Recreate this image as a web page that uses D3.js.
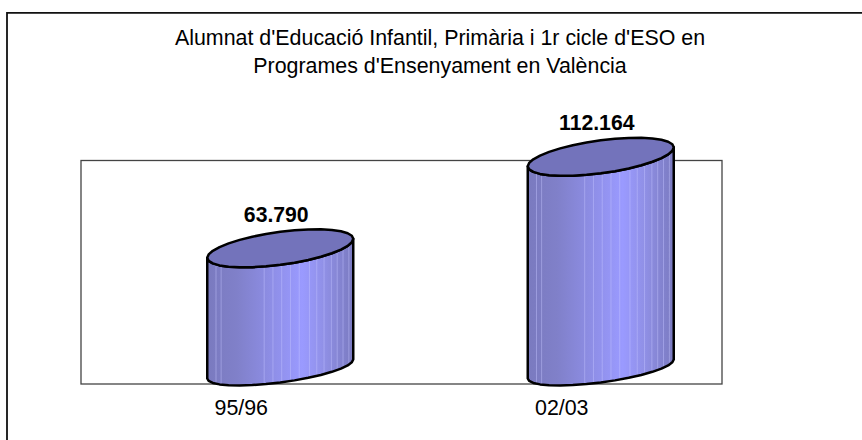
<!DOCTYPE html>
<html>
<head>
<meta charset="utf-8">
<script src="https://cdn.jsdelivr.net/npm/d3@7"></script>
<style>
  html, body { margin: 0; padding: 0; background: #fff; }
  text { font-family: "Liberation Sans", Arial, sans-serif; fill: #000; }
</style>
</head>
<body>
<div id="graphElement"></div>
<script>
var titleLines = ["Alumnat d'Educació Infantil, Primària i 1r cicle d'ESO en", "Programes d'Ensenyament en València"];
var categories = ["95/96", "02/03"];
var values = [63790, 112164];
var valueLabels = ["63.790", "112.164"];

var w = 862;
var h = 440;

// plot area
var plotLeft = 81, plotRight = 722, plotTop = 160.5, plotBottom = 384;

// the cylinders sit up and to the right of the category slot (fake 3d)
var depthX = 39;
var barWidth = 146;
var skew = 9.5;      // half of the rise from left to right of the ellipse
var bulgeTop = 16.5; // half height of the top ellipse
var bulgeBase = 13.5;

var xScale = d3.scaleBand().domain(categories).range([plotLeft, plotRight]);
// y gives the height of the left corner of the cylinder top
var yScale = d3.scaleLinear().domain([0, 120000]).range([378.5, 151.5]);

var svg = d3.select("#graphElement")
            .append("svg")
            .attr("width", w)
            .attr("height", h)
            .style("display", "block");

var defs = svg.append("defs");
var grad = defs.append("linearGradient").attr("id", "body").attr("x1", 0).attr("x2", 1).attr("y1", 0).attr("y2", 0);
grad.append("stop").attr("offset", "0%").attr("stop-color", "#7a7abf");
grad.append("stop").attr("offset", "20%").attr("stop-color", "#8080c9");
grad.append("stop").attr("offset", "65%").attr("stop-color", "#9a9aff");
grad.append("stop").attr("offset", "80%").attr("stop-color", "#9090e6");
grad.append("stop").attr("offset", "100%").attr("stop-color", "#7a7ac0");

// outer frame, only top and left are in the picture
svg.append("path")
   .attr("d", "M7," + h + "V12.8H" + w)
   .attr("fill", "none")
   .attr("stroke", "#111")
   .attr("stroke-width", 1.8);

svg.append("rect")
   .attr("x", plotLeft)
   .attr("y", plotTop)
   .attr("width", plotRight - plotLeft)
   .attr("height", plotBottom - plotTop)
   .attr("fill", "#fff")
   .attr("stroke", "#444")
   .attr("stroke-width", 1.3);

// titles
svg.selectAll("text.title")
   .data(titleLines)
   .enter()
   .append("text")
   .attr("class", "title")
   .attr("x", 440)
   .attr("y", function(d, i) { return 45 + i * 28; })
   .attr("text-anchor", "middle")
   .attr("font-size", 21.4)
   .text(function(d) { return d; });

// axis labels
var xAxis = d3.axisBottom(xScale).tickSize(0).tickPadding(16);
var axisG = svg.append("g")
   .attr("transform", "translate(0," + plotBottom + ")")
   .call(xAxis);
axisG.select(".domain").remove();
axisG.selectAll("text")
   .attr("font-size", 21.4)
   .style("font-family", '"Liberation Sans", Arial, sans-serif');

function ellipsePoints(cx, cy, bulge, from, to, n) {
  var pts = [];
  for (var i = 0; i <= n; i++) {
    var t = from + (to - from) * i / n;
    pts.push([cx + barWidth / 2 * Math.cos(t), cy - skew * Math.cos(t) + bulge * Math.sin(t)]);
  }
  return pts;
}

var stripes = [0.06, 0.095, 0.39, 0.45, 0.51, 0.57, 0.63, 0.70, 0.75, 0.80, 0.85, 0.89, 0.93, 0.97];
var line = d3.line();

var bars = svg.selectAll("g.bar")
   .data(values)
   .enter()
   .append("g")
   .attr("class", "bar");

bars.each(function(d, i) {
  var g = d3.select(this);
  var cx = xScale(categories[i]) + xScale.bandwidth() / 2 + depthX;
  var topY = yScale(d) - skew;      // ellipse centre
  var baseY = yScale(0) - skew;
  var x0 = cx - barWidth / 2;

  var outline = ellipsePoints(cx, baseY, bulgeBase, Math.PI, 0, 16)
    .concat(ellipsePoints(cx, topY, bulgeTop, 0, Math.PI, 16));

  g.append("path")
   .attr("d", line(outline) + "Z")
   .attr("fill", "url(#body)");

  defs.append("clipPath").attr("id", "clip" + i)
      .append("path").attr("d", line(outline) + "Z");

  g.selectAll("line.stripe")
   .data(stripes)
   .enter()
   .append("line")
   .attr("class", "stripe")
   .attr("clip-path", "url(#clip" + i + ")")
   .attr("x1", function(s) { return x0 + s * barWidth; })
   .attr("x2", function(s) { return x0 + s * barWidth; })
   .attr("y1", topY - bulgeTop - skew)
   .attr("y2", baseY + bulgeBase + skew)
   .attr("stroke", "#c4c4ff")
   .attr("stroke-width", 1)
   .attr("opacity", 0.45);

  g.append("path")
   .attr("d", line(outline) + "Z")
   .attr("fill", "none")
   .attr("stroke", "#000")
   .attr("stroke-width", 2.5)
   .attr("stroke-linejoin", "round");

  g.append("path")
   .attr("d", line(ellipsePoints(cx, topY, bulgeTop, 0, 2 * Math.PI, 32)) + "Z")
   .attr("fill", "#7373bb")
   .attr("stroke", "#000")
   .attr("stroke-width", 2.5)
   .attr("stroke-linejoin", "round");

  g.append("text")
   .attr("x", cx - 4)
   .attr("y", yScale(d) - 36)
   .attr("text-anchor", "middle")
   .attr("font-size", 21.2)
   .attr("font-weight", "bold")
   .text(valueLabels[i]);
});
</script>
</body>
</html>
